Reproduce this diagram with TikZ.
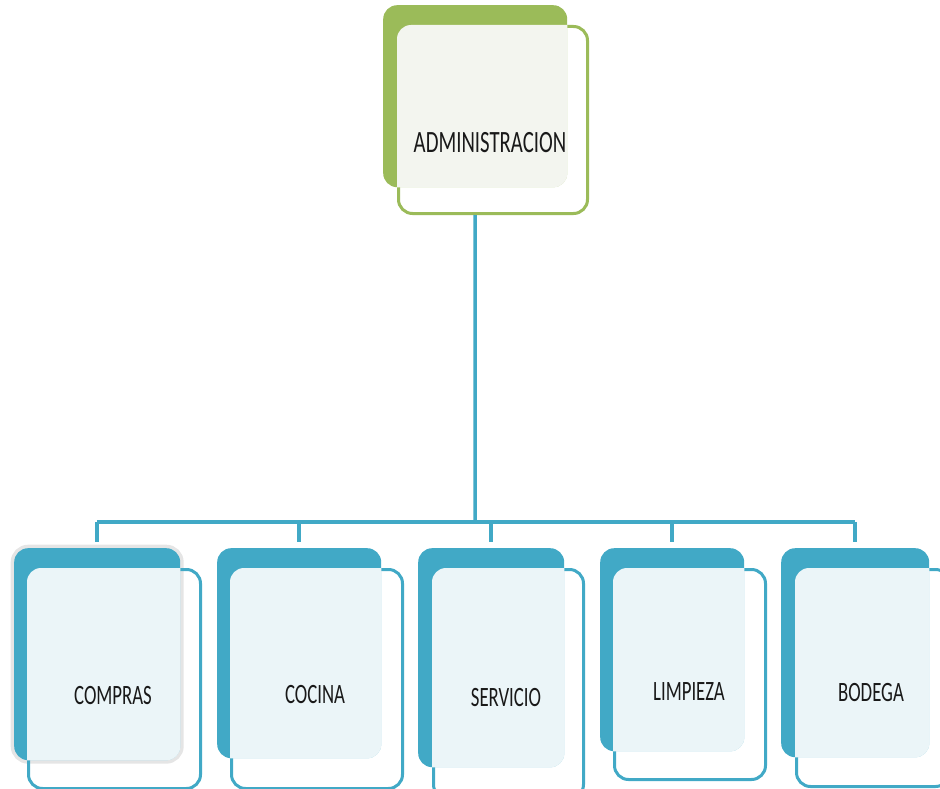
\documentclass[tikz,border=0pt]{standalone}
\usepackage{fontspec}
\newfontfamily\boxfont[FakeStretch=0.67]{Carlito}
\usepackage{xcolor}
\usepackage{tikz}
\definecolor{orgblue}{HTML}{41A9C6}
\definecolor{orggreen}{HTML}{9BBB59}
\definecolor{paleblue}{HTML}{EBF5F8}
\definecolor{palegreen}{HTML}{F3F5EF}
\begin{document}
\begin{tikzpicture}[x=1pt,y=-1pt,
  backbox/.style={rectangle, rounded corners=14pt, inner sep=0pt, anchor=north west, fill=#1},
  frontbox/.style={rectangle, rounded corners=14pt, inner sep=0pt, anchor=north west, draw=#1, line width=3pt},
  boxtext/.style={font=\boxfont\fontsize{28}{30}\selectfont, text=black!90},
  conn/.style={draw=orgblue, line width=3.5pt}]
\useasboundingbox (0,0) rectangle (940,789);
\clip (0,0) rectangle (940,789);
% boxes behind
\node[backbox=orggreen, minimum width=184pt, minimum height=182pt] (adminB) at (383,5) {};
\node[backbox=orgblue, minimum width=166pt, minimum height=212pt, preaction={draw=black!10, line width=7pt}] (comprasB) at (14,548) {};
\node[backbox=orgblue, minimum width=164pt, minimum height=210pt] (cocinaB) at (217,548) {};
\node[backbox=orgblue, minimum width=146pt, minimum height=219pt] (servicioB) at (418,548) {};
\node[backbox=orgblue, minimum width=144pt, minimum height=203pt] (limpiezaB) at (600,548) {};
\node[backbox=orgblue, minimum width=148pt, minimum height=209pt] (bodegaB) at (781,548) {};
% front boxes
\node[frontbox=orggreen, minimum width=189pt, minimum height=187pt] (adminF) at (397,25) {};
\node[frontbox=orgblue, minimum width=172pt, minimum height=219pt] (comprasF) at (27,568) {};
\node[frontbox=orgblue, minimum width=171pt, minimum height=219pt] (cocinaF) at (230,568) {};
\node[frontbox=orgblue, minimum width=150pt, minimum height=229pt] (servicioF) at (432,568) {};
\node[frontbox=orgblue, minimum width=151pt, minimum height=210pt] (limpiezaF) at (613,568) {};
\node[frontbox=orgblue, minimum width=153pt, minimum height=217pt] (bodegaF) at (795,568) {};
\begin{scope}
\clip[rounded corners=14pt] (adminB.north west) rectangle (adminB.south east);
\fill[palegreen, rounded corners=14pt] (adminF.north west) rectangle (adminF.south east);
\end{scope}
\foreach \n in {compras,cocina,servicio,limpieza,bodega}{
  \begin{scope}
  \clip[rounded corners=14pt] (\n B.north west) rectangle (\n B.south east);
  \fill[paleblue, rounded corners=14pt] (\n F.north west) rectangle (\n F.south east);
  \end{scope}
}
% connectors
\coordinate (bus) at (475,522);
\draw[conn] (adminF.south -| adminB.south) -- (bus);
\draw[conn] (comprasB.north |- bus) -- (bodegaB.north |- bus);
\foreach \n in {compras,cocina,servicio,limpieza,bodega}
  \draw[conn, shorten >=6pt] (\n B.north |- bus) -- (\n B.north);
% labels
\node[boxtext, font=\boxfont\fontsize{31}{33}\selectfont] (adminT) at (490,143) {ADMINISTRACION};
\node[boxtext] (comprasT) at (113,696) {COMPRAS};
\node[boxtext] (cocinaT) at (315,695) {COCINA};
\node[boxtext] (servicioT) at (506,698) {SERVICIO};
\node[boxtext] (limpiezaT) at (689,692) {LIMPIEZA};
\node[boxtext] (bodegaT) at (871,693) {BODEGA};
\end{tikzpicture}
\end{document}
